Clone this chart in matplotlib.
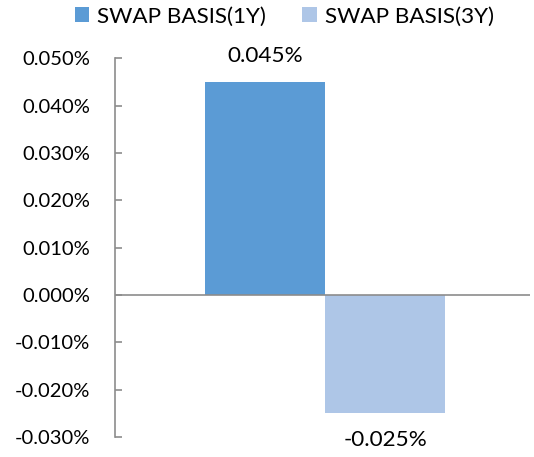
import matplotlib.pyplot as plt
from matplotlib.ticker import FuncFormatter

plt.rcParams['font.family'] = ['Lato', 'DejaVu Sans']

# Data
series_names = ['SWAP BASIS(1Y)', 'SWAP BASIS(3Y)']
series_values = [0.045, -0.025]
series_colors = ['#5B9BD5', '#AEC6E7']
y_ticks = [-0.03, -0.02, -0.01, 0.0, 0.01, 0.02, 0.03, 0.04, 0.05]

# Figure
fig = plt.figure(figsize=(5.34, 4.57), dpi=100)
ax = fig.add_axes([0.2154, 0.0438, 0.7771, 0.8286])

bar_w = 0.29
positions = [-bar_w / 2, bar_w / 2]
bars = []
for pos, val, col, name in zip(positions, series_values, series_colors, series_names):
    b = ax.bar(pos, val, width=bar_w, color=col, label=name, zorder=2)
    bars.append(b)

# Data labels
for pos, val in zip(positions, series_values):
    off = 0.0033 if val > 0 else -0.0036
    ax.text(pos, val + off, f'{val:.3f}%', ha='center',
            va='bottom' if val > 0 else 'top', fontsize=16.2)

ax.set_xlim(-0.506, 0.494)
ax.set_ylim(-0.03, 0.05)
ax.set_yticks(y_ticks)
ax.yaxis.set_major_formatter(FuncFormatter(lambda v, p: f'{v:.3f}%'))
ax.set_xticks([])

# Axis styling
for s in ['top', 'right', 'bottom']:
    ax.spines[s].set_visible(False)
ax.spines['left'].set_color('#8C8C8C')
ax.spines['left'].set_linewidth(1.2)
ax.axhline(0, color='#8C8C8C', linewidth=1.2, zorder=3)
ax.tick_params(axis='y', direction='in', length=5, width=1.2, color='#8C8C8C',
               labelsize=14.5, pad=18)

# Legend
fig.legend(handles=[b[0] for b in bars], labels=series_names, loc='upper center',
           bbox_to_anchor=(0.532, 1.03), ncol=2, frameon=False, fontsize=16.2,
           handlelength=0.65, handleheight=0.65, handletextpad=0.35, columnspacing=1.6)

plt.savefig('out.png', dpi=100)
